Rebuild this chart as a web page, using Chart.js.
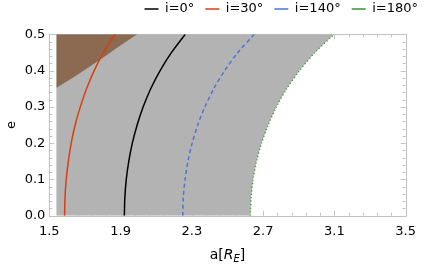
<!DOCTYPE html>
<html>
<head>
<meta charset="utf-8">
<script src="https://cdn.jsdelivr.net/npm/chart.js@4/dist/chart.umd.min.js"></script>
<style>
  html, body { margin: 0; padding: 0; background: #ffffff; }
  #c { display: block; }
</style>
</head>
<body>
<canvas id="c" width="424" height="266"></canvas>
<script>
// ---- data ----
const eValues   = [0, 0.05, 0.1, 0.15, 0.2, 0.25, 0.3, 0.35, 0.4, 0.45, 0.5];
const aIncl0    = [1.921, 1.924, 1.932, 1.946, 1.966, 1.993, 2.027, 2.069, 2.122, 2.186, 2.263];
const aIncl30   = [1.586, 1.588, 1.595, 1.607, 1.623, 1.645, 1.674, 1.709, 1.752, 1.804, 1.869];
const aIncl140  = [2.249, 2.252, 2.262, 2.278, 2.302, 2.333, 2.373, 2.423, 2.484, 2.559, 2.650];
const aIncl180  = [2.629, 2.633, 2.644, 2.663, 2.691, 2.728, 2.774, 2.832, 2.904, 2.991, 3.098];
const grayLeftA = 1.54;            // left edge of the gray (allowed) region
const brownA    = [1.541, 1.632, 1.724, 1.815, 1.907, 1.993];
const brownE    = [0.353, 0.380, 0.410, 0.440, 0.472, 0.500];
const seriesLabels = ['i=0°', 'i=30°', 'i=140°', 'i=180°'];
const xTickValues = [1.5, 1.9, 2.3, 2.7, 3.1, 3.5];
const yTickValues = [0.0, 0.1, 0.2, 0.3, 0.4, 0.5];

const FONT = '"DejaVu Sans", Verdana, sans-serif';

function curve(aArr) { return aArr.map((a, i) => ({ x: a, y: eValues[i] })); }

// gray region polygon: left edge -> along i=180 curve -> back to left edge
const grayPoly = [{ x: grayLeftA, y: eValues[0] }]
  .concat(curve(aIncl180))
  .concat([{ x: grayLeftA, y: eValues[eValues.length - 1] }]);
// brown region polygon
const brownPoly = [{ x: brownA[0], y: brownE[brownE.length - 1] }]
  .concat(brownA.map((a, i) => ({ x: a, y: brownE[i] })));

const frameTicks = {
  id: 'frameTicks',
  beforeDatasetsDraw(chart) {
    const { ctx, chartArea: ca, scales } = chart;
    const xs = scales.x, ys = scales.y;
    ctx.save();
    ctx.strokeStyle = '#c2c2c2';
    ctx.lineWidth = 1;
    ctx.beginPath();
    ctx.rect(Math.round(ca.left) + 0.5, Math.round(ca.top) + 0.5,
             Math.round(ca.right) - Math.round(ca.left), Math.round(ca.bottom) - Math.round(ca.top));
    ctx.stroke();
    const major = 5, minor = 3;
    ctx.beginPath();
    for (let i = 0; i < xTickValues.length; i++) {
      const v = xTickValues[i];
      const px = Math.round(xs.getPixelForValue(v)) + 0.5;
      ctx.moveTo(px, ca.bottom); ctx.lineTo(px, ca.bottom - major);
      ctx.moveTo(px, ca.top); ctx.lineTo(px, ca.top + major);
      if (i < xTickValues.length - 1) {
        const step = (xTickValues[i + 1] - v) / 5;
        for (let k = 1; k < 5; k++) {
          const q = Math.round(xs.getPixelForValue(v + k * step)) + 0.5;
          ctx.moveTo(q, ca.bottom); ctx.lineTo(q, ca.bottom - minor);
          ctx.moveTo(q, ca.top); ctx.lineTo(q, ca.top + minor);
        }
      }
    }
    for (let i = 0; i < yTickValues.length; i++) {
      const v = yTickValues[i];
      const py = Math.round(ys.getPixelForValue(v)) + 0.5;
      ctx.moveTo(ca.left, py); ctx.lineTo(ca.left + major, py);
      ctx.moveTo(ca.right, py); ctx.lineTo(ca.right - major, py);
      if (i < yTickValues.length - 1) {
        const step = (yTickValues[i + 1] - v) / 5;
        for (let k = 1; k < 5; k++) {
          const q = Math.round(ys.getPixelForValue(v + k * step)) + 0.5;
          ctx.moveTo(ca.left, q); ctx.lineTo(ca.left + minor, q);
          ctx.moveTo(ca.right, q); ctx.lineTo(ca.right - minor, q);
        }
      }
    }
    ctx.stroke();
    ctx.restore();
  }
};

const xTitle = {
  id: 'xTitle',
  afterDraw(chart) {
    const { ctx, chartArea: ca } = chart;
    const parts = [
      { t: 'a[', f: '14px ' + FONT, dy: 0 },
      { t: 'R', f: 'italic 14px ' + FONT, dy: 0 },
      { t: 'E', f: 'italic 10px ' + FONT, dy: 3 },
      { t: ']', f: '14px ' + FONT, dy: 0 }
    ];
    ctx.save();
    let total = 0;
    parts.forEach(p => { ctx.font = p.f; p.w = ctx.measureText(p.t).width; total += p.w; });
    let x = (ca.left + ca.right) / 2 - total / 2;
    const base = 259;
    ctx.fillStyle = '#000';
    ctx.textBaseline = 'alphabetic';
    ctx.textAlign = 'left';
    parts.forEach(p => { ctx.font = p.f; ctx.fillText(p.t, x, base + p.dy); x += p.w; });
    ctx.restore();
  }
};

new Chart(document.getElementById('c'), {
  type: 'line',
  data: {
    datasets: [
      { label: seriesLabels[0], data: curve(aIncl0), borderColor: '#000000', borderWidth: 1.5,
        pointRadius: 0, tension: 0.3, fill: false },
      { label: seriesLabels[1], data: curve(aIncl30), borderColor: '#d6400e', borderWidth: 1.5,
        pointRadius: 0, tension: 0.3, fill: false },
      { label: seriesLabels[2], data: curve(aIncl140), borderColor: '#4a73d8', borderWidth: 1.5,
        borderDash: [4, 3], pointRadius: 0, tension: 0.3, fill: false },
      { label: seriesLabels[3], data: curve(aIncl180), borderColor: '#2f9a2f', borderWidth: 1.5,
        borderDash: [1, 2.5], pointRadius: 0, tension: 0.3, fill: false },
      { label: 'brown', data: brownPoly, borderWidth: 0, borderColor: 'rgba(0,0,0,0)',
        backgroundColor: '#8b6a51', pointRadius: 0, tension: 0, fill: 'shape' },
      { label: 'gray', data: grayPoly, borderWidth: 0, borderColor: 'rgba(0,0,0,0)',
        backgroundColor: '#b3b3b3', pointRadius: 0, tension: 0, fill: 'shape' }
    ]
  },
  options: {
    responsive: false,
    devicePixelRatio: 1,
    animation: false,
    events: [],
    layout: { padding: { left: 0, right: -5, top: -8.5, bottom: 0 } },
    plugins: {
      tooltip: { enabled: false },
      legend: {
        position: 'top',
        align: 'end',
        labels: {
          usePointStyle: true,
          pointStyle: 'line',
          pointStyleWidth: 14,
          padding: 11,
          color: '#000',
          font: { family: FONT, size: 13 },
          filter: (item) => seriesLabels.includes(item.text)
        }
      }
    },
    scales: {
      x: {
        type: 'linear', position: 'bottom', min: 1.5, max: 3.5,
        afterBuildTicks: (s) => { s.ticks = xTickValues.map(v => ({ value: v })); },
        afterFit: (s) => { s.height = 50.3; },
        grid: { display: false, drawTicks: false },
        border: { display: false },
        ticks: { padding: 8, color: '#000', maxRotation: 0, autoSkip: false,
                 font: { family: FONT, size: 13 }, callback: (v) => Number(v).toFixed(1) }
      },
      xTop: {
        type: 'linear', position: 'top', display: true,
        afterFit: (s) => { s.height = 8.8; },
        grid: { display: false, drawTicks: false },
        border: { display: false },
        ticks: { display: false }
      },
      y: {
        type: 'linear', position: 'left', min: 0, max: 0.5,
        afterBuildTicks: (s) => { s.ticks = yTickValues.map(v => ({ value: v })); },
        afterFit: (s) => { s.width = 49.3; },
        grid: { display: false, drawTicks: false },
        border: { display: false },
        title: { display: true, text: 'e', color: '#000', font: { family: FONT, size: 13 } },
        ticks: { padding: 4, color: '#000', autoSkip: false,
                 font: { family: FONT, size: 13 }, callback: (v) => Number(v).toFixed(1) }
      },
      yRight: {
        type: 'linear', position: 'right', display: true,
        afterFit: (s) => { s.width = 15.6; },
        grid: { display: false, drawTicks: false },
        border: { display: false },
        ticks: { display: false }
      }
    }
  },
  plugins: [frameTicks, xTitle]
});
</script>
</body>
</html>
